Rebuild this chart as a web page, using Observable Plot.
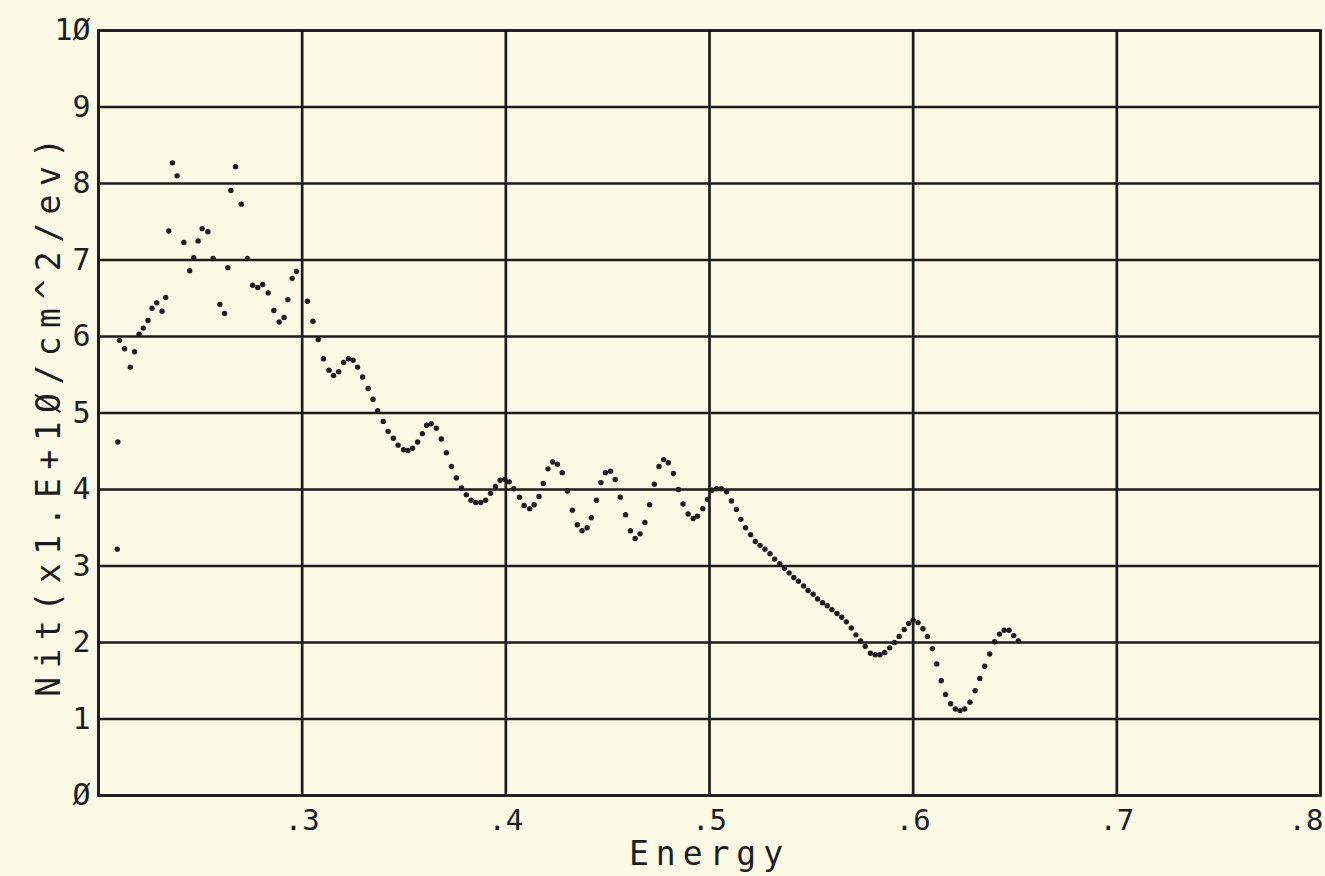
<!DOCTYPE html>
<html>
<head>
<meta charset="utf-8">
<script src="https://cdn.jsdelivr.net/npm/d3@7"></script>
<script src="https://cdn.jsdelivr.net/npm/@observablehq/plot@0.6"></script>
<style>
  html, body { margin: 0; padding: 0; background: #fcfae6; }
  #chart { width: 1325px; height: 876px; }
</style>
</head>
<body>
<div id="chart"></div>
<script>
// Energy (eV) of each plotted point
const energy = [
  0.2092,0.2095,0.2103,0.2128,0.2156,0.2177,0.2199,0.2220,0.2243,0.2263,
  0.2286,0.2312,0.2330,0.2345,0.2363,0.2386,0.2419,0.2448,0.2468,0.2489,
  0.2509,0.2537,0.2563,0.2596,0.2619,0.2635,0.2650,0.2673,0.2701,0.2731,
  0.2757,0.2782,0.2806,0.2833,0.2861,0.2887,0.2911,0.2930,0.2951,0.2972,
  0.3026,0.3053,0.3079,0.3105,0.3132,0.3154,0.3179,0.3203,0.3227,0.3250,
  0.3272,0.3297,0.3324,0.3348,0.3371,0.3398,0.3422,0.3448,0.3471,0.3498,
  0.3519,0.3542,0.3567,0.3590,0.3611,0.3634,0.3659,0.3683,0.3708,0.3733,
  0.3757,0.3782,0.3806,0.3829,0.3852,0.3877,0.3901,0.3925,0.3949,0.3972,
  0.3995,0.4017,0.4039,0.4067,0.4090,0.4117,0.4139,0.4163,0.4184,0.4207,
  0.4230,0.4253,0.4277,0.4302,0.4327,0.4351,0.4374,0.4399,0.4420,0.4445,
  0.4467,0.4489,0.4514,0.4537,0.4562,0.4588,0.4612,0.4635,0.4659,0.4683,
  0.4706,0.4729,0.4752,0.4775,0.4798,0.4823,0.4847,0.4870,0.4895,0.4920,
  0.4941,0.4967,0.4990,0.5012,0.5034,0.5058,0.5084,0.5108,0.5132,0.5154,
  0.5177,0.5202,0.5225,0.5248,0.5272,0.5297,0.5320,0.5345,0.5368,0.5391,
  0.5414,0.5437,0.5462,0.5484,0.5509,0.5531,0.5555,0.5578,0.5601,0.5626,
  0.5649,0.5672,0.5696,0.5719,0.5742,0.5765,0.5790,0.5814,0.5837,0.5860,
  0.5885,0.5908,0.5931,0.5956,0.5978,0.6000,0.6024,0.6048,0.6070,0.6094,
  0.6116,0.6138,0.6159,0.6184,0.6207,0.6230,0.6253,0.6279,0.6304,0.6327,
  0.6351,0.6376,0.6400,0.6424,0.6447,0.6471,0.6494,0.6516
];
// Nit (x1.E+10 /cm^2/eV) of each plotted point
const nit = [
  3.22,4.62,5.95,5.84,5.60,5.80,6.03,6.11,6.21,6.37,
  6.44,6.33,6.51,7.38,8.27,8.10,7.23,6.86,7.03,7.25,
  7.41,7.37,7.02,6.42,6.30,6.90,7.91,8.22,7.73,7.02,
  6.67,6.64,6.68,6.57,6.34,6.19,6.25,6.48,6.76,6.85,
  6.46,6.20,5.96,5.71,5.56,5.49,5.54,5.66,5.71,5.69,
  5.60,5.47,5.32,5.18,5.03,4.89,4.76,4.67,4.58,4.52,
  4.51,4.54,4.62,4.73,4.84,4.86,4.80,4.66,4.48,4.30,
  4.15,4.02,3.93,3.86,3.83,3.83,3.86,3.95,4.04,4.12,
  4.13,4.10,4.01,3.90,3.79,3.75,3.80,3.91,4.08,4.27,
  4.36,4.33,4.22,3.98,3.73,3.54,3.46,3.50,3.63,3.86,
  4.09,4.22,4.24,4.13,3.90,3.67,3.46,3.36,3.42,3.57,
  3.80,4.07,4.30,4.39,4.35,4.21,4.00,3.81,3.68,3.62,
  3.65,3.75,3.87,3.99,4.01,4.01,3.97,3.85,3.74,3.61,
  3.50,3.41,3.32,3.27,3.22,3.16,3.09,3.03,2.97,2.91,
  2.85,2.80,2.74,2.68,2.63,2.57,2.52,2.48,2.43,2.38,
  2.33,2.27,2.19,2.10,2.02,1.95,1.86,1.84,1.84,1.87,
  1.93,2.00,2.08,2.17,2.25,2.29,2.26,2.18,2.08,1.92,
  1.72,1.50,1.32,1.20,1.13,1.11,1.13,1.22,1.37,1.53,
  1.69,1.85,2.01,2.11,2.16,2.16,2.09,2.02
];

const xTicks = [0.3, 0.4, 0.5, 0.6, 0.7];
const xTickLabels = [".3", ".4", ".5", ".6", ".7"];
const xLastTick = [0.8];
const xLastTickLabel = ".8";
const xGrid = [0.2, 0.3, 0.4, 0.5, 0.6, 0.7, 0.8];
const yTicks = [0, 1, 2, 3, 4, 5, 6, 7, 8, 9, 10];
const yTickLabels = ["Ø", "1", "2", "3", "4", "5", "6", "7", "8", "9", "1Ø"];
const xTitle = "Energy";
const yTitle = "Nit(x1.E+1Ø/cm^2/ev)";

const points = energy.map((e, i) => ({energy: e, nit: nit[i]}));
const ink = "#1c1c1c";
const font = "'DejaVu Sans Mono', monospace";

const chart = Plot.plot({
  width: 1325,
  height: 876,
  marginLeft: 98,
  marginRight: 5,
  marginTop: 30,
  marginBottom: 81,
  style: {background: "#fcfae6", color: ink, fontFamily: font},
  x: {domain: [0.2, 0.8]},
  y: {domain: [0, 10]},
  marks: [
    Plot.gridX(xGrid, {stroke: ink, strokeOpacity: 1, strokeWidth: 2.7}),
    Plot.gridY(yTicks, {stroke: ink, strokeOpacity: 1, strokeWidth: 2.7}),
    Plot.frame({stroke: ink, strokeWidth: 2.7}),
    Plot.axisX({ticks: xTicks, tickFormat: (d) => xTickLabels[xTicks.indexOf(d)], tickSize: 0, tickPadding: 14, fontSize: 29, label: null}),
    Plot.axisX({ticks: xLastTick, tickFormat: () => xLastTickLabel, tickSize: 0, tickPadding: 14, fontSize: 29, textAnchor: "end", dx: 3, label: null}),
    Plot.axisY({ticks: yTicks, tickFormat: (d) => yTickLabels[yTicks.indexOf(d)], tickSize: 0, tickPadding: 8, fontSize: 30, label: null}),
    Plot.dot(points, {x: "energy", y: "nit", r: 2.7, fill: ink, stroke: "none"}),
    Plot.text([xTitle], {frameAnchor: "bottom", dy: 59, textAnchor: "middle", lineAnchor: "middle", fontSize: 33, fill: ink, text: (d) => d, className: "xtitle"}),
    Plot.text([yTitle], {frameAnchor: "left", dx: -49, textAnchor: "middle", lineAnchor: "middle", rotate: -90, fontSize: 33, fill: ink, text: (d) => d, className: "ytitle"})
  ]
});

document.getElementById("chart").appendChild(chart);
d3.select(chart).selectAll(".xtitle text").style("letter-spacing", "7px");
d3.select(chart).selectAll(".ytitle text").style("letter-spacing", "8.5px");
</script>
</body>
</html>
